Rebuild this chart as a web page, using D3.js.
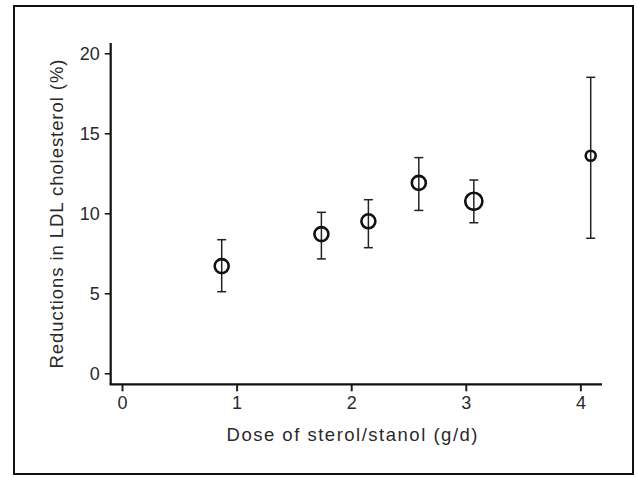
<!DOCTYPE html>
<html>
<head>
<meta charset="utf-8">
<script src="https://cdn.jsdelivr.net/npm/d3@7"></script>
<style>
  html, body { margin: 0; padding: 0; background: #fff; }
  svg { display: block; }
  text { font-family: "Liberation Sans", Arial, sans-serif; fill: #2a2a2a; }
</style>
</head>
<body>
<script>
// ---- data ----
const dose      = [0.87, 1.74, 2.15, 2.59, 3.07, 4.09];
const reduction = [6.7, 8.7, 9.5, 11.9, 10.75, 13.6];
const lower     = [5.1, 7.15, 7.85, 10.18, 9.41, 8.44];
const upper     = [8.35, 10.06, 10.85, 13.48, 12.08, 18.5];
const weight    = [2, 2, 2, 2, 3, 1];   // relative marker size
const xTicks    = [0, 1, 2, 3, 4];
const yTicks    = [0, 5, 10, 15, 20];
const xTitle    = "Dose of sterol/stanol (g/d)";
const yTitle    = "Reductions in LDL cholesterol (%)";

const W = 637, H = 477;
const svg = d3.select("body").append("svg").attr("width", W).attr("height", H);

// outer frame
svg.append("rect").attr("x", 14).attr("y", 6).attr("width", 619).attr("height", 468)
  .attr("fill", "none").attr("stroke", "#111").attr("stroke-width", 2);

const x = d3.scaleLinear().domain([0, 4]).range([122, 580.4]);
const y = d3.scaleLinear().domain([0, 20]).range([373.3, 53.3]);
const r = d3.scaleOrdinal().domain([1, 2, 3]).range([5, 7, 8.6]);

const axisX = 110.7, axisY = 384.3;
const fmt = d3.format("d");

// y axis
const gy = svg.append("g").attr("transform", `translate(${axisX},0)`)
  .call(d3.axisLeft(y).tickValues(yTicks).tickFormat(fmt).tickSize(6).tickSizeOuter(0).tickPadding(5));
gy.select(".domain").remove();
gy.selectAll(".tick line").attr("stroke", "#222").attr("stroke-width", 1.6);
gy.selectAll(".tick text").attr("font-size", 18).attr("font-family", "Liberation Sans, Arial, sans-serif").attr("fill", "#2a2a2a");

// x axis
const gx = svg.append("g").attr("transform", `translate(0,${axisY})`)
  .call(d3.axisBottom(x).tickValues(xTicks).tickFormat(fmt).tickSize(7).tickSizeOuter(0).tickPadding(5));
gx.select(".domain").remove();
gx.selectAll(".tick line").attr("stroke", "#222").attr("stroke-width", 2);
gx.selectAll(".tick text").attr("font-size", 18).attr("font-family", "Liberation Sans, Arial, sans-serif").attr("fill", "#2a2a2a");

// axis lines (offset, open corner style)
svg.append("line").attr("x1", axisX).attr("x2", axisX).attr("y1", 43).attr("y2", axisY)
  .attr("stroke", "#111").attr("stroke-width", 2.2);
svg.append("line").attr("x1", axisX - 1.1).attr("x2", 602).attr("y1", axisY).attr("y2", axisY)
  .attr("stroke", "#111").attr("stroke-width", 2.2);

// titles
svg.append("text").attr("x", 352).attr("y", 441).attr("text-anchor", "middle")
  .attr("font-size", 18.5).attr("textLength", 251).attr("lengthAdjust", "spacing")
  .text(xTitle);
svg.append("text").attr("transform", "translate(63,214) rotate(-90)").attr("text-anchor", "middle")
  .attr("font-size", 18.5).attr("textLength", 309).attr("lengthAdjust", "spacing")
  .text(yTitle);

// data
const pts = dose.map((d, i) => ({ x: d, y: reduction[i], lo: lower[i], hi: upper[i], w: weight[i] }));
const cap = 4.5;
const g = svg.append("g");
g.selectAll(".err").data(pts).join("line")
  .attr("x1", d => x(d.x)).attr("x2", d => x(d.x))
  .attr("y1", d => y(d.lo)).attr("y2", d => y(d.hi))
  .attr("stroke", "#222").attr("stroke-width", 1.5);
g.selectAll(".capH").data(pts).join("line")
  .attr("x1", d => x(d.x) - cap).attr("x2", d => x(d.x) + cap)
  .attr("y1", d => y(d.hi)).attr("y2", d => y(d.hi))
  .attr("stroke", "#222").attr("stroke-width", 1.5);
g.selectAll(".capL").data(pts).join("line")
  .attr("x1", d => x(d.x) - cap).attr("x2", d => x(d.x) + cap)
  .attr("y1", d => y(d.lo)).attr("y2", d => y(d.lo))
  .attr("stroke", "#222").attr("stroke-width", 1.5);
g.selectAll("circle").data(pts).join("circle")
  .attr("cx", d => x(d.x)).attr("cy", d => y(d.y)).attr("r", d => r(d.w))
  .attr("fill", "none").attr("stroke", "#111").attr("stroke-width", 2.6);
</script>
</body>
</html>
